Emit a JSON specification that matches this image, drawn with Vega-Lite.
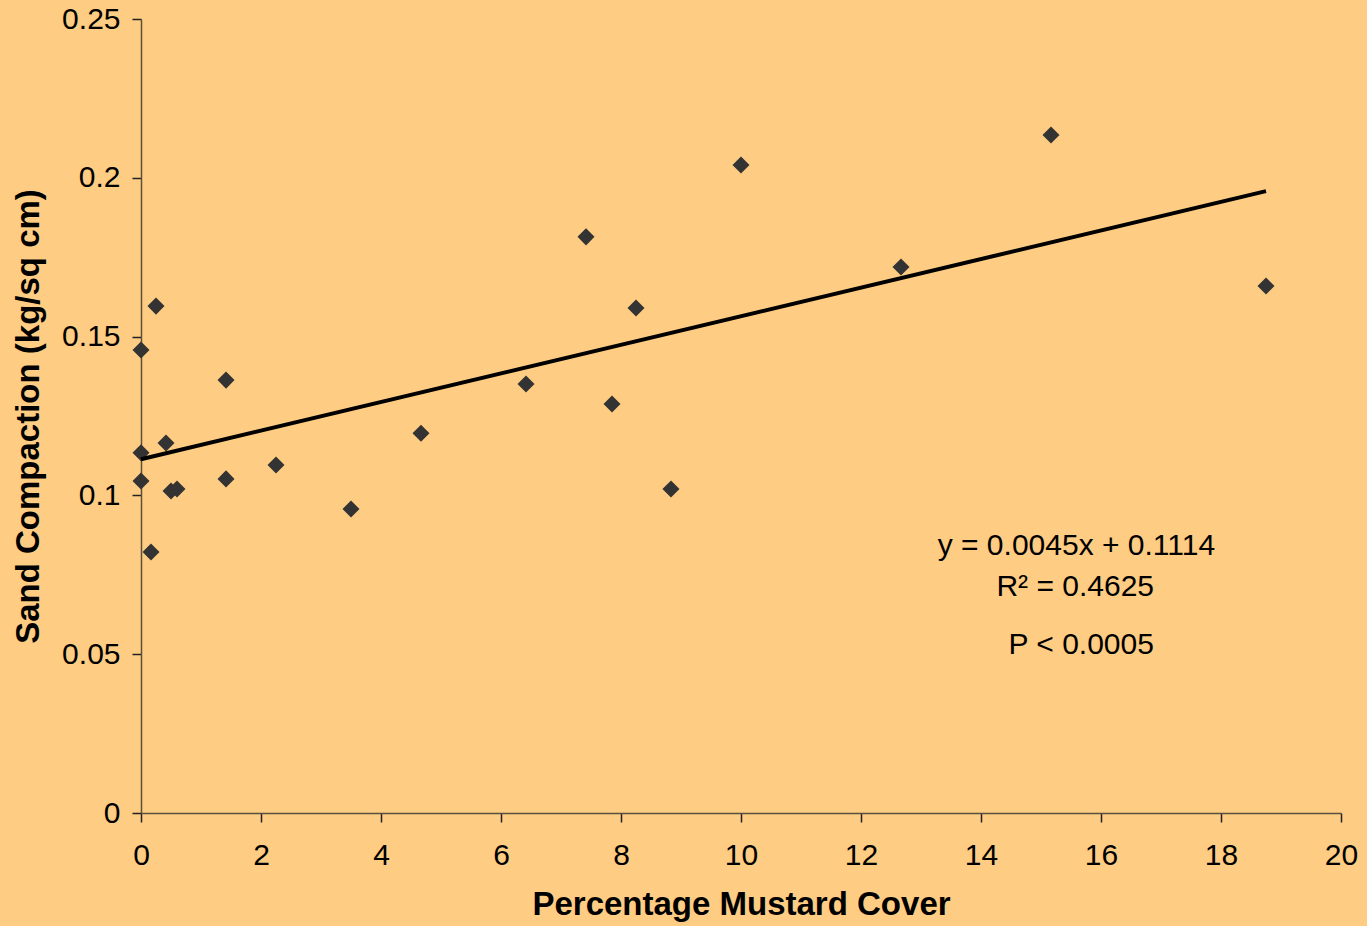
{
  "$schema": "https://vega.github.io/schema/vega-lite/v6.json",
  "autosize": {"type": "none"},
  "width": 1200,
  "height": 794,
  "padding": {"left": 141, "top": 19, "right": 26, "bottom": 113},
  "background": "#FECC82",
  "config": {
    "view": {"stroke": null},
    "font": "Liberation Sans",
    "axis": {
      "grid": false,
      "domainColor": "#5a5040",
      "domainWidth": 1.5,
      "tickColor": "#222222",
      "tickWidth": 1.5,
      "tickSize": 9,
      "labelFlush": false,
      "labelFont": "Liberation Sans",
      "labelFontSize": 30,
      "labelColor": "#000000",
      "titleFont": "Liberation Sans",
      "titleFontSize": 33,
      "titleFontWeight": "bold",
      "titleColor": "#000000"
    }
  },
  "datasets": {
    "points": [
      {"cover": 0, "compaction": 0.1458},
      {"cover": 0, "compaction": 0.1134},
      {"cover": 0, "compaction": 0.1045},
      {"cover": 0.167, "compaction": 0.0822},
      {"cover": 0.25, "compaction": 0.1596},
      {"cover": 0.417, "compaction": 0.1165},
      {"cover": 0.5, "compaction": 0.1014},
      {"cover": 0.6, "compaction": 0.102},
      {"cover": 1.417, "compaction": 0.1363},
      {"cover": 1.417, "compaction": 0.1052},
      {"cover": 2.25, "compaction": 0.1096},
      {"cover": 3.5, "compaction": 0.0957},
      {"cover": 4.667, "compaction": 0.1196},
      {"cover": 6.417, "compaction": 0.1351},
      {"cover": 7.417, "compaction": 0.1814},
      {"cover": 7.85, "compaction": 0.1288},
      {"cover": 8.25, "compaction": 0.159},
      {"cover": 8.833, "compaction": 0.102},
      {"cover": 10, "compaction": 0.204},
      {"cover": 12.667, "compaction": 0.1719},
      {"cover": 15.167, "compaction": 0.2135},
      {"cover": 18.75, "compaction": 0.1659}
    ],
    "trend": [
      {"cover": 0, "compaction": 0.1114},
      {"cover": 18.75, "compaction": 0.1958}
    ],
    "notes": [
      {"cover": 15.59, "compaction": 0.0841, "label": "y = 0.0045x + 0.1114"},
      {"cover": 15.57, "compaction": 0.0712, "label": "R² = 0.4625"},
      {"cover": 15.67, "compaction": 0.0529, "label": "P < 0.0005"}
    ]
  },
  "layer": [
    {
      "data": {"name": "points"},
      "mark": {"type": "point", "shape": "diamond", "filled": true, "size": 290, "color": "#333333", "opacity": 1},
      "encoding": {
        "x": {
          "field": "cover", "type": "quantitative",
          "scale": {"domain": [0, 20], "nice": false, "zero": false},
          "axis": {"values": [0, 2, 4, 6, 8, 10, 12, 14, 16, 18, 20], "format": "d", "title": "Percentage Mustard Cover", "labelPadding": 18, "titlePadding": 18}
        },
        "y": {
          "field": "compaction", "type": "quantitative",
          "scale": {"domain": [0, 0.25], "nice": false},
          "axis": {"values": [0, 0.05, 0.1, 0.15, 0.2, 0.25], "format": "~g", "title": "Sand Compaction (kg/sq cm)", "labelPadding": 12, "titlePadding": 16}
        }
      }
    },
    {
      "data": {"name": "trend"},
      "mark": {"type": "line", "color": "#000000", "strokeWidth": 4},
      "encoding": {
        "x": {"field": "cover", "type": "quantitative"},
        "y": {"field": "compaction", "type": "quantitative"}
      }
    },
    {
      "data": {"name": "notes"},
      "mark": {"type": "text", "fontSize": 30, "font": "Liberation Sans", "color": "#000000", "align": "center", "baseline": "middle"},
      "encoding": {
        "x": {"field": "cover", "type": "quantitative"},
        "y": {"field": "compaction", "type": "quantitative"},
        "text": {"field": "label"}
      }
    }
  ]
}
